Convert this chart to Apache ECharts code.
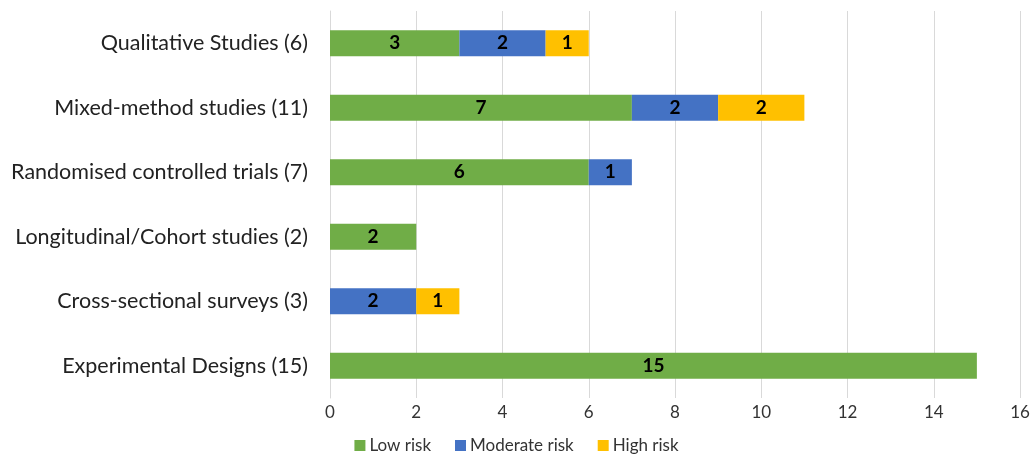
<!DOCTYPE html>
<html>
<head>
<meta charset="utf-8">
<style>
  html, body { margin: 0; padding: 0; background: #ffffff; }
  #chart { width: 1033px; height: 456px; }
</style>
<script src="https://cdn.jsdelivr.net/npm/echarts@6/dist/echarts.min.js"></script>
</head>
<body>
<div id="chart"></div>
<script>
// Study designs, listed top to bottom
const categories = [
  'Qualitative Studies (6)',
  'Mixed-method studies (11)',
  'Randomised controlled trials (7)',
  'Longitudinal/Cohort studies (2)',
  'Cross-sectional surveys (3)',
  'Experimental Designs (15)'
];
// Number of studies per risk-of-bias rating
const lowRisk      = [3, 7, 6, 2, null, 15];
const moderateRisk = [2, 2, 1, null, 2, null];
const highRisk     = [1, 2, null, null, 1, null];
const xTicks = { min: 0, max: 16, interval: 2 };

const FONT = 'Lato, "Open Sans", sans-serif';

function barSeries(name, data, color) {
  return {
    name: name,
    type: 'bar',
    stack: 'risk',
    data: data,
    barWidth: 26,
    itemStyle: { color: color },
    label: {
      show: true,
      position: 'inside',
      color: '#000000',
      fontWeight: 'bold',
      fontSize: 19,
      fontFamily: FONT
    },
    emphasis: { disabled: true }
  };
}

const chart = echarts.init(document.getElementById('chart'), null, { renderer: 'canvas' });
chart.setOption({
  animation: false,
  grid: { left: 330, right: 13, top: 11, bottom: 58, containLabel: false },
  legend: {
    top: 432,
    left: 'center',
    itemWidth: 11,
    itemHeight: 11,
    itemGap: 24,
    icon: 'rect',
    textStyle: { fontSize: 17, color: '#333333', fontFamily: FONT, padding: [0, 0, 0, -1] },
    data: ['Low risk', 'Moderate risk', 'High risk']
  },
  xAxis: {
    type: 'value',
    min: xTicks.min,
    max: xTicks.max,
    interval: xTicks.interval,
    axisLine: { show: false },
    axisTick: { show: false },
    axisLabel: { fontSize: 17, color: '#333333', fontFamily: FONT, margin: 6 },
    splitLine: { show: true, lineStyle: { color: '#d9d9d9', width: 1 } }
  },
  yAxis: {
    type: 'category',
    inverse: true,
    data: categories,
    axisLine: { show: true, lineStyle: { color: '#d9d9d9' } },
    axisTick: { show: false },
    axisLabel: { fontSize: 21.5, color: '#222222', fontFamily: FONT, margin: 22 }
  },
  series: [
    barSeries('Low risk', lowRisk, '#70ad47'),
    barSeries('Moderate risk', moderateRisk, '#4472c4'),
    barSeries('High risk', highRisk, '#ffc000')
  ]
});
</script>
</body>
</html>
